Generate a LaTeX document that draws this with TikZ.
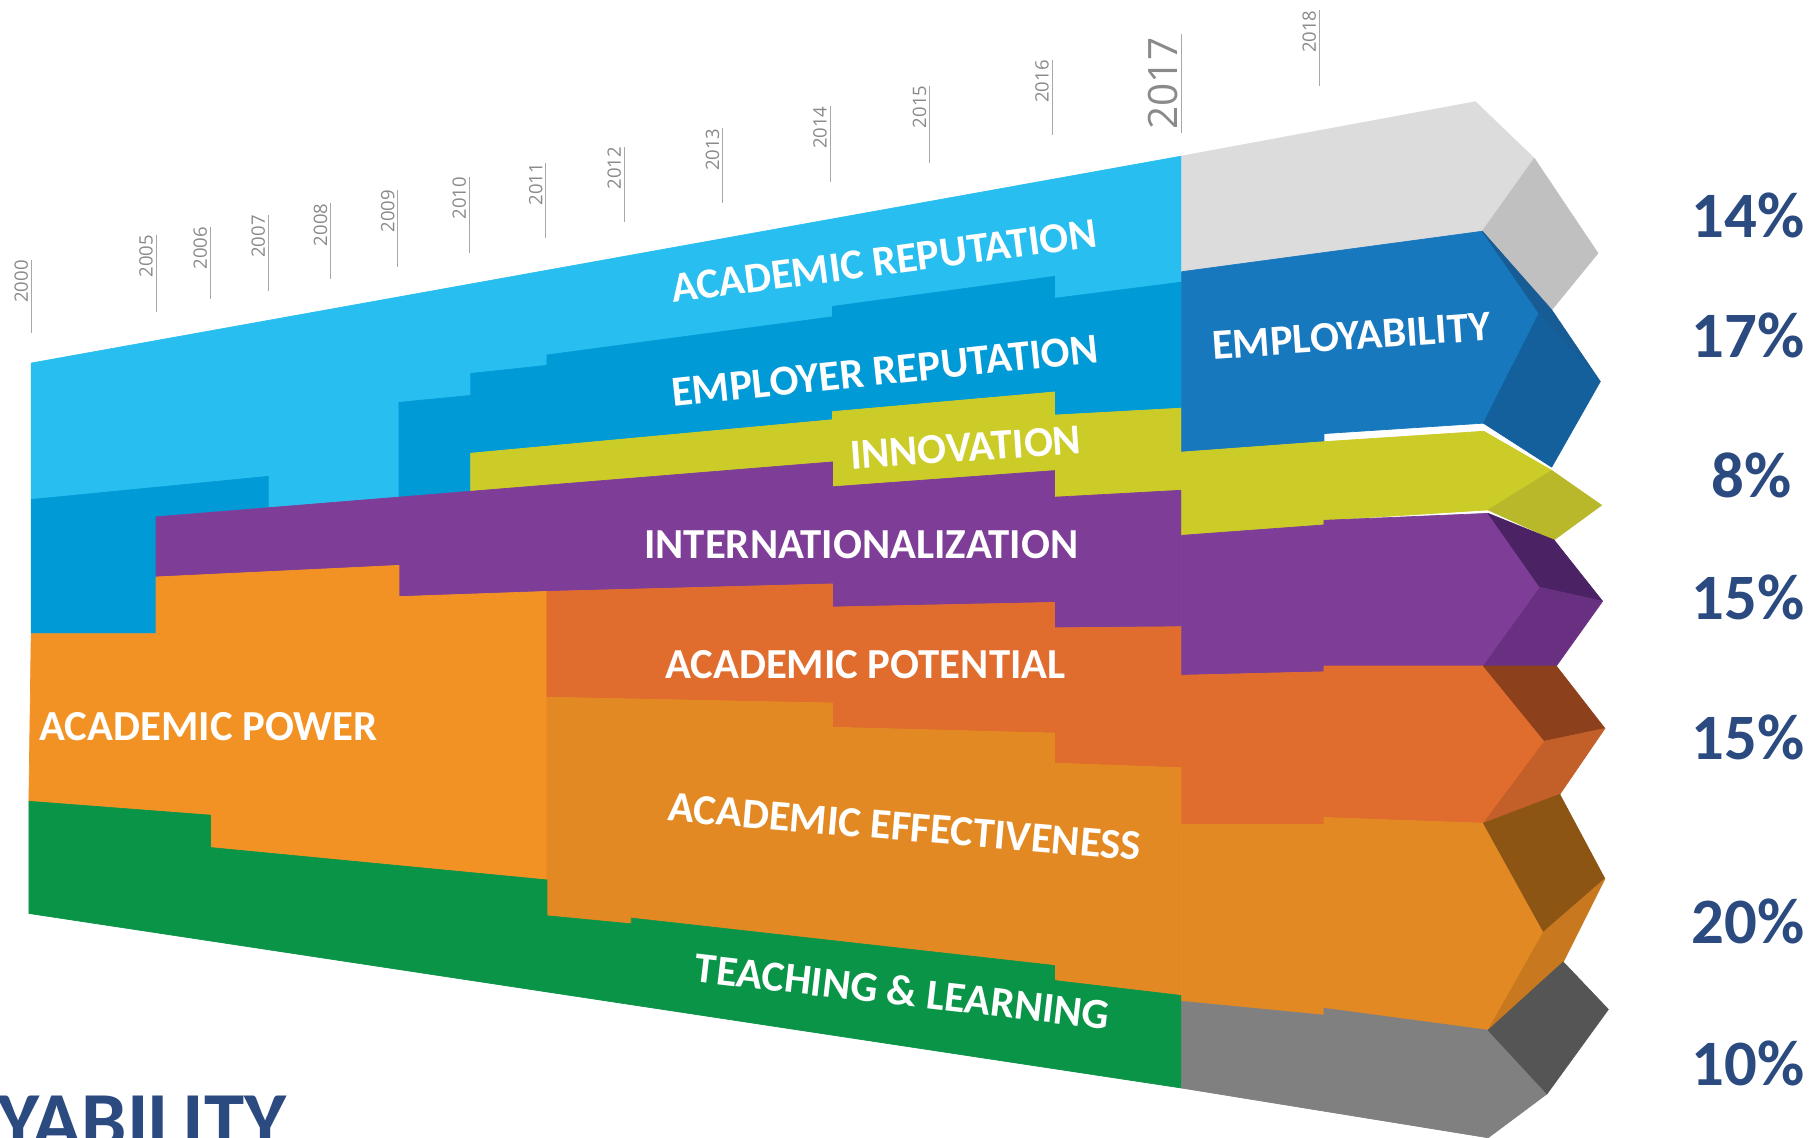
\documentclass[tikz,border=0pt]{standalone}
\usepackage{fontspec}
\setmainfont{Carlito}
\newfontfamily\yearfont{Open Sans}
\definecolor{ar}{HTML}{29BEF0}
\definecolor{er}{HTML}{009AD6}
\definecolor{inn}{HTML}{CCCC29}
\definecolor{innd}{HTML}{B9B82A}
\definecolor{intl}{HTML}{7E3D97}
\definecolor{intlu}{HTML}{4B2364}
\definecolor{intll}{HTML}{693082}
\definecolor{pow}{HTML}{F39224}
\definecolor{pot}{HTML}{E06C2D}
\definecolor{potu}{HTML}{8C411C}
\definecolor{potl}{HTML}{C35F28}
\definecolor{eff}{HTML}{E38923}
\definecolor{effu}{HTML}{8C5514}
\definecolor{effl}{HTML}{C8781E}
\definecolor{tl}{HTML}{0A9448}
\definecolor{emp}{HTML}{1878BE}
\definecolor{empu}{HTML}{175C95}
\definecolor{empl}{HTML}{13609D}
\definecolor{gt}{HTML}{DCDCDC}
\definecolor{gtd}{HTML}{C0C0C0}
\definecolor{gb}{HTML}{808080}
\definecolor{gbd}{HTML}{555555}
\definecolor{navy}{HTML}{2B4A80}
\definecolor{yeargray}{HTML}{8A8A8A}
\definecolor{linegray}{HTML}{A8A8A8}
\tikzset{
  band/.style={fill=#1, draw=#1, line width=0.6pt, line join=round},
  lbl/.style={text=white, font=\bfseries\fontsize{37}{40}\selectfont, inner sep=0pt, anchor=base west},
  pct/.style={text=navy, font=\bfseries\fontsize{56}{60}\selectfont, inner sep=0pt, anchor=base},
  yr/.style={text=yeargray, font=\yearfont\fontsize{16}{18}\selectfont, inner sep=0pt, rotate=90, anchor=base east},
  yrline/.style={draw=linegray, line width=1pt},
}
\begin{document}
\begin{tikzpicture}[x=1pt,y=-1pt]
\useasboundingbox (0,0) rectangle (1568,984);
\clip (0,0) rectangle (1568,984);
\fill[white] (0,0) rectangle (1568,984);

% ---------- year ticks ----------
\foreach \ya/\yb/\yc/\yd in {2000/27/225/288, 2005/135/203/270, 2006/182/196/259,
  2007/232/186/252, 2008/286/176/241, 2009/344/164/231, 2010/406/153/219,
  2011/472/141/206, 2012/540/127/192, 2013/625/111/176, 2014/718/92/157,
  2015/804/74/141, 2016/910/52/117, 2018/1141/9/74}{
  \coordinate (t\ya) at (\yb,\yc);
  \coordinate (b\ya) at (\yb,\yd);
  \draw[yrline] (t\ya) -- (b\ya);
  \node[yr] (n\ya) at ([xshift=-3pt]t\ya) {\ya};
}
\coordinate (t2017) at (1022,29);
\coordinate (b2017) at (1022,115);
\draw[yrline] (t2017) -- (b2017);
\node[yr, font=\yearfont\fontsize{35}{38}\selectfont] (n2017) at ([xshift=-4pt,yshift=-3pt]t2017) {2017};

% ---------- left part (2000-2017) ----------
\path[band=ar] (27,314) -- (1022,135) -- (1022,244) -- (912,258) -- (912,239) -- (720,265) -- (720,274)
  -- (473,307) -- (473,316) -- (407,323) -- (407,342) -- (345,348) -- (345,429.9) -- (232,439.1)
  -- (232,412) -- (27,432) -- cycle;
\path[band=er] (27,432) -- (232,412) -- (232,439.1) -- (135,447) -- (135,548) -- (27,548) -- cycle;
\path[band=er] (345,348) -- (407,342) -- (407,323) -- (473,316) -- (473,307) -- (720,274) -- (720,265)
  -- (912,239) -- (912,258) -- (1022,244) -- (1022,353) -- (912,359) -- (912,339) -- (720,356)
  -- (720,363) -- (407,392) -- (407,424.9) -- (345,429.9) -- cycle;
\path[band=inn] (407,392) -- (720,363) -- (720,356) -- (912,339) -- (912,359) -- (1022,353) -- (1022,424)
  -- (912,430) -- (912,407) -- (720,421) -- (720,399.5) -- (407,424.9) -- cycle;
\path[band=intl] (135,447) -- (720,399.5) -- (720,421) -- (912,407) -- (912,430) -- (1022,424) -- (1022,542)
  -- (912,543) -- (912,521) -- (720,525) -- (720,505) -- (473,511.5) -- (345,516) -- (345,489)
  -- (135,499) -- cycle;
\path[band=pow] (27,548) -- (135,548) -- (135,499) -- (345,489) -- (345,516) -- (473,511.5) -- (473,761)
  -- (182,733) -- (182,705) -- (25,693) -- cycle;
\path[band=pot] (473,511.5) -- (720,505) -- (720,525) -- (912,521) -- (912,543) -- (1022,542) -- (1022,664)
  -- (912,660) -- (912,634) -- (720,629) -- (720,608) -- (473,603) -- cycle;
\path[band=eff] (473,603) -- (720,608) -- (720,629) -- (912,634) -- (912,660) -- (1022,664) -- (1022,861)
  -- (912,848) -- (912,835) -- (546,794) -- (546,799) -- (473,792) -- cycle;
\path[band=tl] (25,693) -- (182,705) -- (182,733) -- (473,761) -- (473,792) -- (546,799) -- (546,794)
  -- (912,835) -- (912,848) -- (1022,861) -- (1022,941) -- (25,790) -- cycle;

% ---------- right part (2017 onwards) ----------
\path[band=gt] (1022,135) -- (1276,88) -- (1327,137) -- (1282,200) -- (1022,235) -- cycle;
\path[band=gtd] (1327,137) -- (1382,219) -- (1342,268) -- (1282,200) -- cycle;
\path[band=emp] (1022,235) -- (1282,200) -- (1331,271) -- (1283,366) -- (1145,375) -- (1145,382) -- (1022,391) -- cycle;
\path[band=empu] (1282,200) -- (1342,268) -- (1384,330) -- (1331,271) -- cycle;
\path[band=empl] (1331,271) -- (1384,330) -- (1342,404) -- (1283,366) -- cycle;
\path[band=inn] (1022,391) -- (1145,382) -- (1283,373) -- (1342,407) -- (1287,441) -- (1145,450) -- (1145,454) -- (1022,463) -- cycle;
\path[band=inn] (1283,373) -- (1385,437) -- (1342,407) -- cycle;
\path[band=innd] (1342,407) -- (1385,437) -- (1344,467) -- (1287,441) -- cycle;
\path[band=intl] (1022,463) -- (1145,454) -- (1145,450) -- (1287,444) -- (1332,508) -- (1283,576) -- (1145,576) -- (1145,581) -- (1022,584) -- cycle;
\path[band=intlu] (1287,444) -- (1344,467) -- (1386,520) -- (1332,508) -- cycle;
\path[band=intll] (1332,508) -- (1386,520) -- (1346,576) -- (1283,576) -- cycle;
\path[band=pot] (1022,584) -- (1145,581) -- (1145,576) -- (1283,576) -- (1336,641) -- (1283,712) -- (1145,707) -- (1145,713) -- (1022,713) -- cycle;
\path[band=potu] (1283,576) -- (1346,576) -- (1388,630) -- (1336,641) -- cycle;
\path[band=potl] (1336,641) -- (1388,630) -- (1349,687) -- (1283,712) -- cycle;
\path[band=eff] (1022,713) -- (1145,713) -- (1145,707) -- (1283,712) -- (1335,806) -- (1287,891) -- (1145,872) -- (1145,878) -- (1022,866) -- cycle;
\path[band=effu] (1283,712) -- (1349,687) -- (1388,760) -- (1335,806) -- cycle;
\path[band=effl] (1335,806) -- (1388,760) -- (1352,832) -- (1287,891) -- cycle;
\path[band=gb] (1022,866) -- (1145,878) -- (1145,872) -- (1287,891) -- (1338,946) -- (1287,984) -- (1022,941) -- cycle;
\path[band=gbd] (1287,891) -- (1352,832) -- (1391,873) -- (1338,946) -- cycle;

% ---------- band labels ----------
\node[lbl, rotate=7.5] (lar) at (582,262) {ACADEMIC REPUTATION};
\node[lbl, rotate=6] (ler) at (582,352) {EMPLOYER REPUTATION};
\node[lbl, rotate=4] (linn) at (736,406) {INNOVATION};
\node[lbl] (lint) at (557,483) {INTERNATIONALIZATION};
\node[lbl] (lpot) at (575,587) {ACADEMIC POTENTIAL};
\node[lbl, rotate=-4.8] (leff) at (577,710) {ACADEMIC EFFECTIVENESS};
\node[lbl, rotate=-6.6] (ltl) at (600,849) {TEACHING \& LEARNING};
\node[lbl] (lpow) at (34,640) {ACADEMIC POWER};
\node[lbl, rotate=4] (lemp) at (1049,311) {EMPLOYABILITY};

% ---------- percentages ----------
\node[pct] (p1) at (1512,205) {14\%};
\node[pct] (p2) at (1512,309) {17\%};
\node[pct] (p3) at (1515,430) {8\%};
\node[pct] (p4) at (1512,536) {15\%};
\node[pct] (p5) at (1512,657) {15\%};
\node[pct] (p6) at (1512,816) {20\%};
\node[pct] (p7) at (1512,939) {10\%};

% ---------- cut-off title ----------
\node[text=navy, font=\bfseries\fontsize{70}{72}\selectfont, inner sep=0pt, anchor=base east] (title) at (248,993) {EMPLOYABILITY};
\end{tikzpicture}
\end{document}
